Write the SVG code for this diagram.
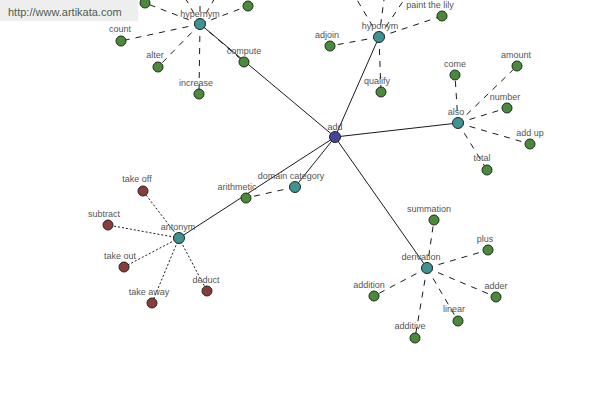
<svg xmlns="http://www.w3.org/2000/svg" width="600" height="400" viewBox="0 0 600 400">
<style>
.e{stroke:#000;stroke-width:0.9;fill:none}
.d{stroke:#000;stroke-width:0.9;fill:none;stroke-dasharray:6,6}
.o{stroke:#000;stroke-width:0.9;fill:none;stroke-dasharray:2,2}
.n circle{stroke:#1e2a1e;stroke-width:1}
.g circle{fill:#4b8a3c}
.t circle{fill:#3f9393}
.r circle{fill:#8c3b3b}
.b circle{fill:#45459e}
text{font-family:"Liberation Sans",Arial,sans-serif;font-size:9px;fill:#555;text-anchor:middle}
</style>
<rect width="600" height="400" fill="#fff"/>
<g id="connectors">
<line class="e" x1="335" y1="137" x2="200" y2="24"/>
<line class="e" x1="335" y1="137" x2="379" y2="37"/>
<line class="e" x1="335" y1="137" x2="458" y2="123"/>
<line class="e" x1="335" y1="137" x2="427" y2="268"/>
<line class="e" x1="335" y1="137" x2="295" y2="187"/>
<line class="e" x1="335" y1="137" x2="179" y2="238"/>
<line class="d" x1="200" y1="24" x2="145" y2="3"/>
<line class="d" x1="200" y1="24" x2="248" y2="6"/>
<line class="d" x1="200" y1="24" x2="175" y2="-20"/>
<line class="d" x1="200" y1="24" x2="200" y2="-25"/>
<line class="d" x1="200" y1="24" x2="228" y2="-25"/>
<line class="d" x1="200" y1="24" x2="121" y2="41"/>
<line class="d" x1="200" y1="24" x2="158" y2="67"/>
<line class="d" x1="200" y1="24" x2="199" y2="94"/>
<line class="d" x1="200" y1="24" x2="244" y2="62"/>
<line class="d" x1="379" y1="37" x2="350" y2="-12"/>
<line class="d" x1="379" y1="37" x2="386" y2="-15"/>
<line class="d" x1="379" y1="37" x2="412" y2="-12"/>
<line class="d" x1="379" y1="37" x2="442" y2="16"/>
<line class="d" x1="379" y1="37" x2="330" y2="46"/>
<line class="d" x1="379" y1="37" x2="381" y2="92"/>
<line class="d" x1="458" y1="123" x2="455" y2="75"/>
<line class="d" x1="458" y1="123" x2="517" y2="66"/>
<line class="d" x1="458" y1="123" x2="507" y2="108"/>
<line class="d" x1="458" y1="123" x2="530" y2="144"/>
<line class="d" x1="458" y1="123" x2="487" y2="170"/>
<line class="d" x1="295" y1="187" x2="246" y2="198"/>
<line class="d" x1="427" y1="268" x2="434" y2="220"/>
<line class="d" x1="427" y1="268" x2="488" y2="250"/>
<line class="d" x1="427" y1="268" x2="374" y2="296"/>
<line class="d" x1="427" y1="268" x2="496" y2="297"/>
<line class="d" x1="427" y1="268" x2="458" y2="321"/>
<line class="d" x1="427" y1="268" x2="415" y2="338"/>
<line class="o" x1="179" y1="238" x2="143" y2="191"/>
<line class="o" x1="179" y1="238" x2="108" y2="225"/>
<line class="o" x1="179" y1="238" x2="124" y2="267"/>
<line class="o" x1="179" y1="238" x2="152" y2="303"/>
<line class="o" x1="179" y1="238" x2="207" y2="291"/>
</g>
<g id="watermark">
<rect x="0" y="0" width="138" height="21" fill="#eeeeee"/>
<text x="8" y="16" style="font-size:11px;text-anchor:start;fill:#4f5f4f">http://www.artikata.com</text>
</g>
<g id="n-add" class="n b"><circle cx="335" cy="137" r="5.5"/><text x="335" y="130">add</text></g>
<g id="n-hypernym" class="n t"><circle cx="200" cy="24" r="5.5"/><text x="200" y="17">hypernym</text></g>
<g id="n-hyponym" class="n t"><circle cx="379" cy="37" r="5.5"/><text x="380" y="29">hyponym</text></g>
<g id="n-also" class="n t"><circle cx="458" cy="123" r="5.5"/><text x="456" y="115">also</text></g>
<g id="n-domain-category" class="n t"><circle cx="295" cy="187" r="5.5"/><text x="291" y="179">domain category</text></g>
<g id="n-antonym" class="n t"><circle cx="179" cy="238" r="5.5"/><text x="178" y="230">antonym</text></g>
<g id="n-derivation" class="n t"><circle cx="427" cy="268" r="5.5"/><text x="421" y="260">derivation</text></g>
<g id="n-hyper-a" class="n g"><circle cx="145" cy="3" r="5"/></g>
<g id="n-hyper-b" class="n g"><circle cx="248" cy="6" r="5"/></g>
<g id="n-count" class="n g"><circle cx="121" cy="41" r="5"/><text x="120" y="32">count</text></g>
<g id="n-alter" class="n g"><circle cx="158" cy="67" r="5"/><text x="155" y="58">alter</text></g>
<g id="n-increase" class="n g"><circle cx="199" cy="94" r="5"/><text x="196" y="86">increase</text></g>
<g id="n-compute" class="n g"><circle cx="244" cy="62" r="5"/><text x="244" y="54">compute</text></g>
<g id="n-paint-the-lily" class="n g"><circle cx="442" cy="16" r="5"/><text x="430" y="8">paint the lily</text></g>
<g id="n-adjoin" class="n g"><circle cx="330" cy="46" r="5"/><text x="327" y="38">adjoin</text></g>
<g id="n-qualify" class="n g"><circle cx="381" cy="92" r="5"/><text x="377" y="84">qualify</text></g>
<g id="n-come" class="n g"><circle cx="455" cy="75" r="5"/><text x="455" y="67">come</text></g>
<g id="n-amount" class="n g"><circle cx="517" cy="66" r="5"/><text x="516" y="58">amount</text></g>
<g id="n-number" class="n g"><circle cx="507" cy="108" r="5"/><text x="505" y="100">number</text></g>
<g id="n-add-up" class="n g"><circle cx="530" cy="144" r="5"/><text x="530" y="136">add up</text></g>
<g id="n-total" class="n g"><circle cx="487" cy="170" r="5"/><text x="482" y="161">total</text></g>
<g id="n-arithmetic" class="n g"><circle cx="246" cy="198" r="5"/><text x="237" y="190">arithmetic</text></g>
<g id="n-summation" class="n g"><circle cx="434" cy="220" r="5"/><text x="429" y="212">summation</text></g>
<g id="n-plus" class="n g"><circle cx="488" cy="250" r="5"/><text x="485" y="242">plus</text></g>
<g id="n-addition" class="n g"><circle cx="374" cy="296" r="5"/><text x="369" y="288">addition</text></g>
<g id="n-adder" class="n g"><circle cx="496" cy="297" r="5"/><text x="496" y="289">adder</text></g>
<g id="n-linear" class="n g"><circle cx="458" cy="321" r="5"/><text x="454" y="312">linear</text></g>
<g id="n-additive" class="n g"><circle cx="415" cy="338" r="5"/><text x="410" y="329">additive</text></g>
<g id="n-take-off" class="n r"><circle cx="143" cy="191" r="5"/><text x="137" y="182">take off</text></g>
<g id="n-subtract" class="n r"><circle cx="108" cy="225" r="5"/><text x="104" y="217">subtract</text></g>
<g id="n-take-out" class="n r"><circle cx="124" cy="267" r="5"/><text x="120" y="259">take out</text></g>
<g id="n-take-away" class="n r"><circle cx="152" cy="303" r="5"/><text x="149" y="295">take away</text></g>
<g id="n-deduct" class="n r"><circle cx="207" cy="291" r="5"/><text x="206" y="283">deduct</text></g>
</svg>
